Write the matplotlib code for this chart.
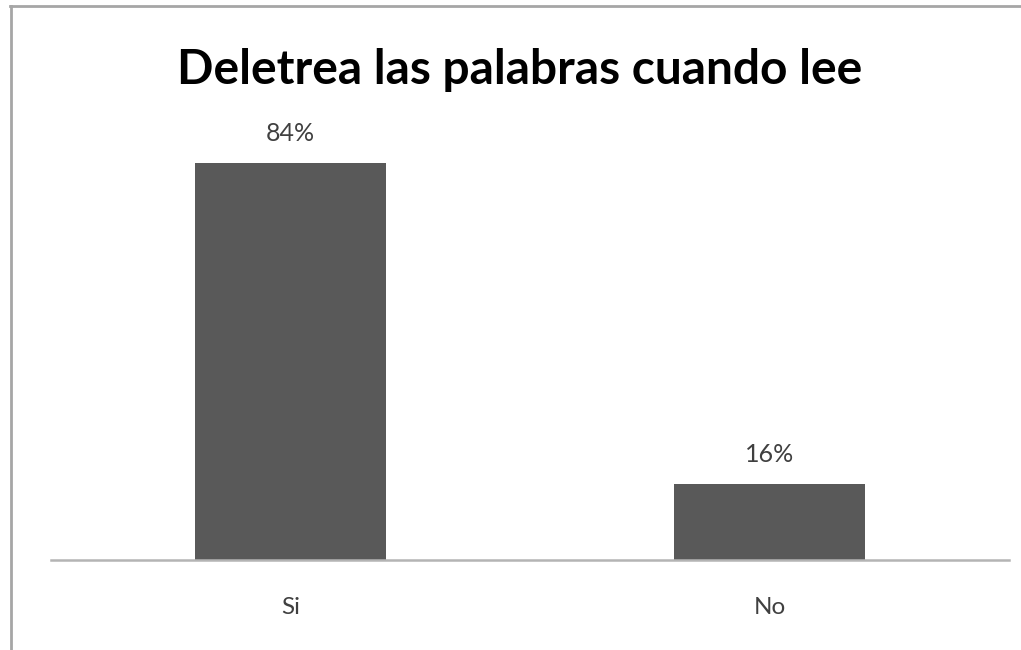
import matplotlib.pyplot as plt
from matplotlib.lines import Line2D

categorias = ['Si', 'No']
valores = [84, 16]
etiquetas = ['84%', '16%']

fig = plt.figure(figsize=(10.21, 6.5), dpi=100)
ax = fig.add_axes([51 / 1021, 90 / 650, 958 / 1021, 425 / 650])

pos = range(len(categorias))
ax.bar(pos, valores, width=0.4, color='#595959')
ax.set_xlim(-0.5, 1.5)
ax.set_ylim(0, 90)

for x, v, t in zip(pos, valores, etiquetas):
    ax.text(x, v + 6.4, t, ha='center', va='center', fontsize=18,
            family='Lato', color='#404040')

ax.set_xticks(list(pos))
ax.set_xticklabels(categorias, fontsize=17.5, family='Lato', color='#404040')
ax.tick_params(axis='x', length=0, pad=27)
ax.set_yticks([])
for s in ['left', 'right', 'top']:
    ax.spines[s].set_visible(False)
ax.spines['bottom'].set_color('#b4b4b4')
ax.spines['bottom'].set_linewidth(1.8)

fig.text(520 / 1021, 1 - 70 / 650, 'Deletrea las palabras cuando lee',
         ha='center', va='center', fontsize=34.5, fontweight='bold',
         family='Lato', color='black')

# marco exterior
fig.add_artist(Line2D([10.5 / 1021, 10.5 / 1021], [0, 1 - 5.5 / 650],
                      color='#a6a6a6', linewidth=2))
fig.add_artist(Line2D([10 / 1021, 1], [1 - 5.5 / 650, 1 - 5.5 / 650],
                      color='#a6a6a6', linewidth=2))

fig.savefig('out.png', dpi=100)
